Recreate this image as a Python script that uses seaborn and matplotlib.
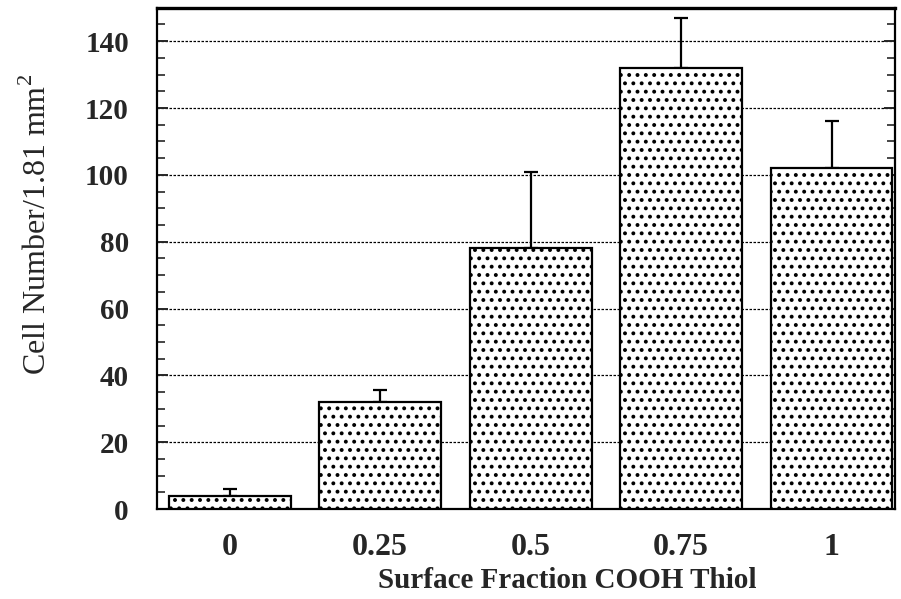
import matplotlib
matplotlib.use("Agg")
import matplotlib.pyplot as plt
import seaborn as sns
import pandas as pd
import numpy as np
from matplotlib.ticker import MultipleLocator

categories = ["0", "0.25", "0.5", "0.75", "1"]
cell_counts = [4, 32, 78, 132, 102]
error_upper = [2, 3.5, 23, 15, 14]

sns.set_style("white")
plt.rcParams['font.family'] = ['Liberation Serif', 'DejaVu Serif']
plt.rcParams['hatch.linewidth'] = 1.6

df = pd.DataFrame({"fraction": categories, "count": cell_counts})

fig = plt.figure(figsize=(9.01, 5.99), dpi=100)
ax = fig.add_axes([0.174, 0.150, 0.819, 0.837])

ax.yaxis.grid(True, which='major', linestyle=(0, (2.0, 1.2)), color='black', linewidth=0.9, zorder=0)
ax.set_axisbelow(True)

sns.barplot(data=df, x="fraction", y="count", color="white", edgecolor="black",
            linewidth=1.6, width=0.81, errorbar=None, ax=ax, zorder=3)
for p in ax.patches:
    p.set_hatch('..')
    p.set_facecolor('white')

xpos = np.arange(len(categories))
ax.errorbar(xpos, cell_counts, yerr=[np.zeros(len(error_upper)), error_upper],
            fmt='none', ecolor='black', elinewidth=1.6, capsize=5, capthick=1.6, zorder=2)

ax.set_xlim(-0.485, 4.42)
ax.set_ylim(0, 150)
ax.yaxis.set_major_locator(MultipleLocator(20))
ax.yaxis.set_minor_locator(MultipleLocator(5))
ax.tick_params(axis='y', which='major', direction='in', length=8, width=1.4,
               left=True, right=True, labelsize=21, pad=20)
ax.tick_params(axis='y', which='minor', direction='in', length=6, width=1.2,
               left=True, right=True)
ax.tick_params(axis='x', which='both', length=0, labelsize=23, pad=17)
for lbl in ax.get_xticklabels() + ax.get_yticklabels():
    lbl.set_fontweight('bold')

for s in ax.spines.values():
    s.set_visible(True)
    s.set_color('black')
    s.set_linewidth(1.6)
ax.spines['top'].set_linewidth(2.4)

ax.set_xlabel("Surface Fraction COOH Thiol", fontsize=21, fontweight='bold')
ax.xaxis.set_label_coords(0.556, -0.116)
ax.set_ylabel("Cell Number/1.81 mm$^\\mathregular{2}$", fontsize=23)
ax.yaxis.set_label_coords(-0.140, 0.567)

fig.savefig("out.png", dpi=100)
